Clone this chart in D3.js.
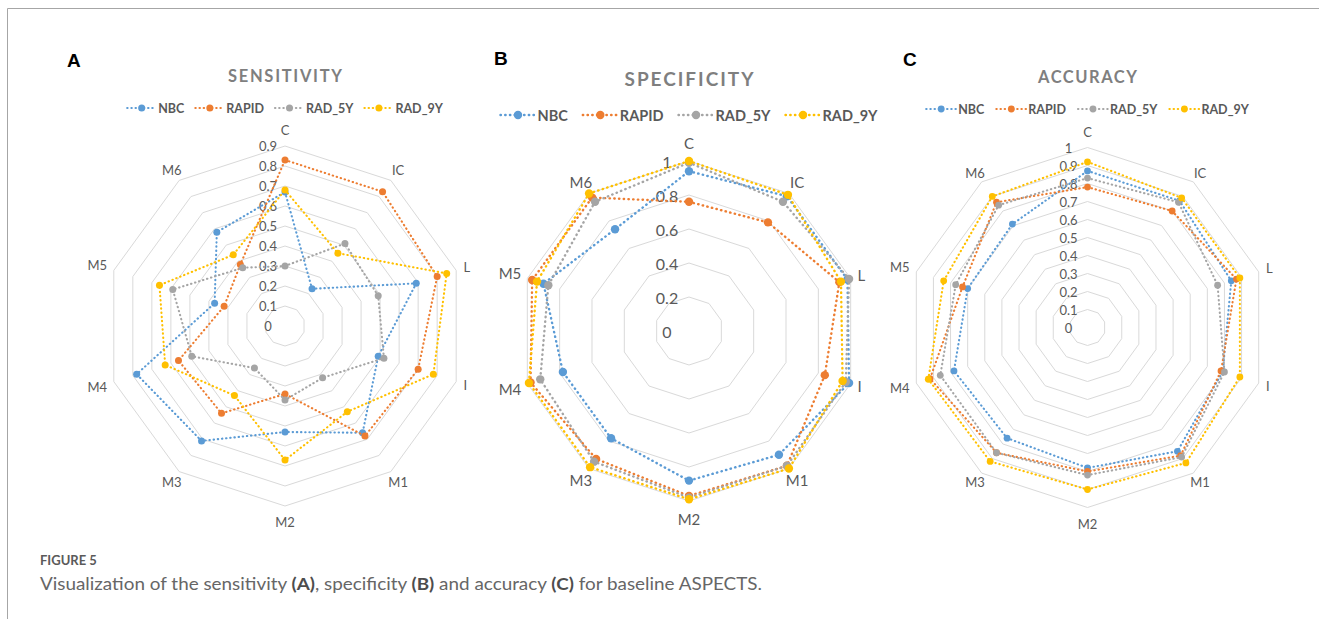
<!DOCTYPE html>
<html>
<head>
<meta charset="utf-8">
<script src="https://cdn.jsdelivr.net/npm/d3@7/dist/d3.min.js"></script>
<style>
  html, body { margin: 0; padding: 0; background: #ffffff; }
  svg { display: block; }
</style>
</head>
<body>
<svg id="fig" width="1319" height="619"></svg>
<script>
// ASPECTS regions (radar axes, clockwise from the top)
const categories = ["C", "IC", "L", "I", "M1", "M2", "M3", "M4", "M5", "M6"];
const seriesNames = ["NBC", "RAPID", "RAD_5Y", "RAD_9Y"];

// Panel A: sensitivity
const sensitivityNBC   = [0.67, 0.23, 0.69, 0.49, 0.66, 0.53, 0.71, 0.78, 0.37, 0.58];
const sensitivityRAPID = [0.83, 0.83, 0.80, 0.70, 0.68, 0.34, 0.54, 0.56, 0.32, 0.38];
const sensitivityRAD5Y = [0.30, 0.51, 0.49, 0.52, 0.32, 0.37, 0.26, 0.49, 0.59, 0.36];
const sensitivityRAD9Y = [0.68, 0.45, 0.85, 0.78, 0.53, 0.67, 0.43, 0.63, 0.66, 0.44];
const sensitivityTicks = [0, 0.1, 0.2, 0.3, 0.4, 0.5, 0.6, 0.7, 0.8, 0.9];

// Panel B: specificity
const specificityNBC   = [0.94, 0.98, 0.98, 0.99, 0.90, 0.88, 0.78, 0.78, 0.90, 0.74];
const specificityRAPID = [0.76, 0.79, 0.93, 0.84, 0.98, 0.97, 0.93, 0.98, 0.97, 0.97];
const specificityRAD5Y = [0.99, 0.94, 0.99, 0.97, 0.98, 0.98, 0.95, 0.92, 0.87, 0.94];
const specificityRAD9Y = [1.00, 0.99, 0.94, 0.95, 1.00, 0.99, 0.99, 0.99, 0.94, 1.00];
const specificityTicks = [0, 0.2, 0.4, 0.6, 0.8, 1];

// Panel C: accuracy
const accuracyNBC   = [0.87, 0.87, 0.84, 0.79, 0.85, 0.78, 0.76, 0.78, 0.70, 0.71];
const accuracyRAPID = [0.78, 0.80, 0.87, 0.78, 0.88, 0.80, 0.86, 0.92, 0.73, 0.86];
const accuracyRAD5Y = [0.83, 0.86, 0.76, 0.80, 0.89, 0.82, 0.86, 0.86, 0.77, 0.84];
const accuracyRAD9Y = [0.92, 0.89, 0.89, 0.89, 0.93, 0.90, 0.92, 0.93, 0.84, 0.90];
const accuracyTicks = [0, 0.1, 0.2, 0.3, 0.4, 0.5, 0.6, 0.7, 0.8, 0.9, 1];

const colors = { NBC: "#5B9BD5", RAPID: "#ED7D31", RAD_5Y: "#A5A5A5", RAD_9Y: "#FFC000" };
const FONT = "Lato, 'Open Sans', sans-serif";
const TEXT = "#595959";

const panels = [
  { letter: "A", title: "SENSITIVITY", titleLen: 114, titleSize: 16.5, titleY: 82,
    series: [sensitivityNBC, sensitivityRAPID, sensitivityRAD5Y, sensitivityRAD9Y],
    ticks: sensitivityTicks, max: 0.9, cx: 285, cy: 326, R: 180,
    letterX: 67, letterY: 67,
    legendY: 108, legendSize: 12.5, legendLine: 29, legendGap: 11,
    tickSize: 13, tickDx: -17, catSize: 13, cat: { g: 8, top: 8, diag: 4.5 },
    lineW: 2.1, dotR: 3.5 },
  { letter: "B", title: "SPECIFICITY", titleLen: 129, titleSize: 19, titleY: 86,
    series: [specificityNBC, specificityRAPID, specificityRAD5Y, specificityRAD9Y],
    ticks: specificityTicks, max: 1, cx: 689, cy: 331, R: 170,
    letterX: 494, letterY: 65,
    legendY: 115, legendSize: 14.5, legendLine: 35, legendGap: 15,
    tickSize: 16, tickDx: -22, catSize: 15, cat: { g: 7.5, top: 10.5, diag: 6.5 },
    lineW: 2.4, dotR: 4.2 },
  { letter: "C", title: "ACCURACY", titleLen: 99, titleSize: 16.5, titleY: 83,
    series: [accuracyNBC, accuracyRAPID, accuracyRAD5Y, accuracyRAD9Y],
    ticks: accuracyTicks, max: 1, cx: 1087.5, cy: 327.5, R: 180,
    letterX: 903, letterY: 66,
    legendY: 109, legendSize: 12.5, legendLine: 30, legendGap: 12,
    tickSize: 13, tickDx: -19, catSize: 13, cat: { g: 8, top: 8, diag: 3.5 },
    lineW: 2.1, dotR: 3.4 }
];

const svg = d3.select("#fig");

// figure frame (top and left rules)
svg.append("path")
  .attr("d", "M7.5,619 V8.5 H1319")
  .attr("fill", "none").attr("stroke", "#a6a6a6").attr("stroke-width", 1);

const angle = d3.scaleLinear().domain([0, categories.length]).range([0, 2 * Math.PI]);

panels.forEach(p => {
  const g = svg.append("g");
  const r = d3.scaleLinear().domain([0, p.max]).range([0, p.R]);
  const radial = d3.lineRadial()
    .angle((d, i) => angle(i))
    .radius(d => r(d))
    .curve(d3.curveLinearClosed);

  const chart = g.append("g").attr("transform", `translate(${p.cx},${p.cy})`);

  // concentric decagon gridlines
  chart.append("g").selectAll("path")
    .data(p.ticks.filter(t => t > 0))
    .join("path")
    .attr("d", t => radial(categories.map(() => t)))
    .attr("fill", "none")
    .attr("stroke", "#d9d9d9")
    .attr("stroke-width", 1);

  // value labels along the C axis
  chart.append("g").selectAll("text")
    .data(p.ticks)
    .join("text")
    .attr("x", p.tickDx)
    .attr("y", t => -r(t))
    .attr("text-anchor", "middle")
    .attr("dominant-baseline", "central")
    .attr("font-family", FONT)
    .attr("font-size", p.tickSize)
    .attr("fill", TEXT)
    .text(t => d3.format("~g")(t));

  // category labels around the outside
  const cats = chart.append("g").selectAll("text")
    .data(categories)
    .join("text")
    .attr("text-anchor", "middle")
    .attr("dominant-baseline", "central")
    .attr("font-family", FONT)
    .attr("font-size", p.catSize)
    .attr("fill", TEXT)
    .text(d => d);
  cats.each(function (d, i) {
    const a = angle(i);
    const s = Math.abs(Math.sin(a)), c = Math.abs(Math.cos(a));
    const w = this.getComputedTextLength();
    let off;
    if (s > 0.9) off = p.cat.g + w / 2 * s;
    else if (c > 0.9) off = p.cat.g + p.cat.top;
    else off = p.cat.g + p.cat.diag;
    const rr = p.R + off;
    d3.select(this)
      .attr("x", rr * Math.sin(a))
      .attr("y", -rr * Math.cos(a));
  });

  // series: dotted outline with round markers
  p.series.forEach((vals, si) => {
    const name = seriesNames[si];
    const sg = chart.append("g");
    sg.append("path")
      .attr("d", radial(vals))
      .attr("fill", "none")
      .attr("stroke", colors[name])
      .attr("stroke-width", p.lineW)
      .attr("stroke-linecap", "round")
      .attr("stroke-dasharray", `0.4,${p.lineW * 1.8}`);
    sg.selectAll("circle")
      .data(vals)
      .join("circle")
      .attr("cx", (d, i) => r(d) * Math.sin(angle(i)))
      .attr("cy", (d, i) => -r(d) * Math.cos(angle(i)))
      .attr("r", p.dotR)
      .attr("fill", colors[name]);
  });

  // panel letter
  g.append("text")
    .attr("x", p.letterX).attr("y", p.letterY)
    .attr("font-family", "'Liberation Sans', Arial, sans-serif")
    .attr("font-weight", "bold")
    .attr("font-size", 19)
    .attr("fill", "#000")
    .text(p.letter);

  // chart title
  g.append("text")
    .attr("x", p.cx - p.titleLen / 2).attr("y", p.titleY)
    .attr("font-family", FONT)
    .attr("font-weight", "bold")
    .attr("font-size", p.titleSize)
    .attr("fill", "#7f7f7f")
    .attr("textLength", p.titleLen)
    .attr("lengthAdjust", "spacing")
    .text(p.title);

  // legend
  const leg = g.append("g");
  const items = seriesNames.map(name => {
    const it = leg.append("g");
    it.append("path")
      .attr("d", `M0,0 H${p.legendLine}`)
      .attr("stroke", colors[name])
      .attr("stroke-width", p.lineW)
      .attr("stroke-linecap", "round")
      .attr("stroke-dasharray", `0.4,${p.lineW * 1.8}`);
    it.append("circle")
      .attr("cx", p.legendLine / 2).attr("cy", 0)
      .attr("r", p.dotR)
      .attr("fill", colors[name]);
    const t = it.append("text")
      .attr("x", p.legendLine + 2).attr("y", 0)
      .attr("dominant-baseline", "central")
      .attr("font-family", FONT)
      .attr("font-weight", "bold")
      .attr("font-size", p.legendSize)
      .attr("fill", TEXT)
      .text(name);
    return { it, w: p.legendLine + 2 + t.node().getComputedTextLength() };
  });
  const total = d3.sum(items, d => d.w) + p.legendGap * (items.length - 1);
  let x0 = p.cx - total / 2;
  items.forEach(d => {
    d.it.attr("transform", `translate(${x0},${p.legendY})`);
    x0 += d.w + p.legendGap;
  });
});

// figure caption
svg.append("text")
  .attr("x", 40).attr("y", 565)
  .attr("font-family", FONT)
  .attr("font-weight", "bold")
  .attr("font-size", 13)
  .attr("fill", "#5a5a5a")
  .text("FIGURE 5");

const caption = svg.append("text")
  .attr("x", 40).attr("y", 590)
  .attr("font-family", FONT)
  .attr("font-size", 17)
  .attr("fill", "#666666")
  .attr("textLength", 722)
  .attr("lengthAdjust", "spacingAndGlyphs");
[["Visualization of the sensitivity ", false], ["(A)", true], [", specificity ", false],
 ["(B)", true], [" and accuracy ", false], ["(C)", true], [" for baseline ASPECTS.", false]]
  .forEach(([txt, b]) => {
    caption.append("tspan")
      .attr("font-weight", b ? "bold" : "normal")
      .attr("fill", b ? "#4d4d4d" : "#666666")
      .text(txt);
  });
</script>
</body>
</html>
